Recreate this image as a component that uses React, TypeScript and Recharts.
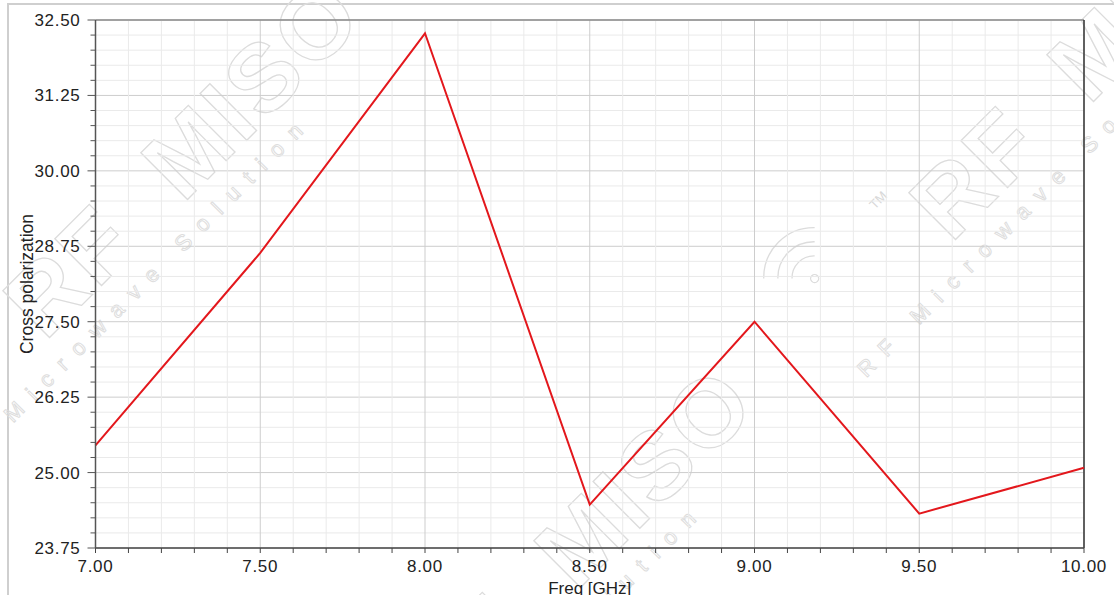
import React from 'react';
import { LineChart, Line, XAxis, YAxis, CartesianGrid, ReferenceLine, Label } from 'recharts';

// ---- data ----
const freqs = [7.0, 7.5, 8.0, 8.5, 9.0, 9.5, 10.0];
const crossPol = [25.45, 28.64, 32.28, 24.47, 27.5, 24.32, 25.08];

const xMajorTicks = [7.0, 7.5, 8.0, 8.5, 9.0, 9.5, 10.0];
const yMajorTicks = [23.75, 25.0, 26.25, 27.5, 28.75, 30.0, 31.25, 32.5];
const xDomain = [7.0, 10.0];
const yDomain = [23.75, 32.5];
const xMinorStep = 0.1;
const yMinorStep = 0.25;

const buildTicks = (lo: number, hi: number, step: number) => {
  const n = Math.round((hi - lo) / step);
  return Array.from({ length: n + 1 }, (_, i) => +(lo + i * step).toFixed(4));
};
const xAllTicks = buildTicks(xDomain[0], xDomain[1], xMinorStep);
const yAllTicks = buildTicks(yDomain[0], yDomain[1], yMinorStep);

const data = freqs.map((f, i) => ({ freq: f, xpol: crossPol[i] }));

const FONT = '"Liberation Sans", Arial, Helvetica, sans-serif';
const isMajor = (v: number, majors: number[]) => majors.some((m) => Math.abs(m - v) < 1e-6);

const YTick = (props: any) => {
  const { x, y, payload } = props;
  const major = isMajor(payload.value, yMajorTicks);
  return (
    <g>
      <line x1={x} x2={x - (major ? 8 : 5)} y1={y} y2={y} stroke="#555555" strokeWidth={1} />
      {major && (
        <text
          x={x - 15}
          y={y}
          dy="0.355em"
          textAnchor="end"
          fill="#222222"
          fontSize={17}
          letterSpacing={0.7}
          fontFamily={FONT}
        >
          {payload.value.toFixed(2)}
        </text>
      )}
    </g>
  );
};

const XTick = (props: any) => {
  const { x, y, payload } = props;
  const major = isMajor(payload.value, xMajorTicks);
  return (
    <g>
      <line x1={x} x2={x} y1={y} y2={y + 5} stroke="#444444" strokeWidth={1} />
      {major && (
        <text
          x={x}
          y={y + 12}
          dy="0.71em"
          textAnchor="middle"
          fill="#222222"
          fontSize={17}
          letterSpacing={0.7}
          fontFamily={FONT}
        >
          {payload.value.toFixed(2)}
        </text>
      )}
    </g>
  );
};

const gridLine = (props: any) => {
  const { x1, y1, x2, y2, index } = props;
  const major = index % 5 === 0;
  return (
    <line
      key={`g-${x1}-${y1}-${index}`}
      x1={x1}
      y1={y1}
      x2={x2}
      y2={y2}
      stroke={major ? '#cdcdcd' : '#eaeaea'}
      strokeWidth={1}
    />
  );
};

const WM = '#dcdcdc';
const Watermark = ({ x, y }: { x: number; y: number }) => (
  <g transform={`translate(${x},${y}) rotate(-45)`}>
    <text x={0} y={0} fontSize={96} fontWeight="bold" fontFamily={FONT} fill="none" stroke={WM} strokeWidth={1.3} letterSpacing={4}>
      MISO
    </text>
    <text x={-195} y={0} fontSize={96} fontWeight="bold" fontFamily={FONT} fill="none" stroke={WM} strokeWidth={1.3} letterSpacing={4}>
      RF
    </text>
    <text x={-225} y={-78} fontSize={13} fontFamily={FONT} fill="#d8d8d8">
      TM
    </text>
    <g fill="none" stroke={WM} strokeWidth={1.3}>
      <circle cx={-316} cy={-72} r={4} />
      <path d="M -332 -88 A 22 22 0 0 1 -300 -88" />
      <path d="M -342 -98 A 36 36 0 0 1 -290 -98" />
      <path d="M -352 -108 A 50 50 0 0 1 -280 -108" />
    </g>
    <text x={-350} y={35} fontSize={22} fontFamily={FONT} fill="none" stroke="#dddddd" strokeWidth={1} letterSpacing={13}>
      RF Microwave Solution
    </text>
  </g>
);

export default function App() {
  return (
    <div
      style={{
        position: 'fixed',
        left: 0,
        top: 0,
        width: 1114,
        height: 595,
        background: '#ffffff',
        overflow: 'hidden',
        fontFamily: FONT,
      }}
    >
      <div
        style={{
          position: 'absolute',
          left: 7,
          top: 3,
          width: 1200,
          height: 700,
          borderLeft: '2px solid #cfcfcf',
          borderTop: '2px solid #cfcfcf',
        }}
      />
      <svg width={1114} height={595} style={{ position: 'absolute', left: 0, top: 0 }}>
        <Watermark x={183} y={204} />
        <Watermark x={1089} y={106} />
        <Watermark x={576} y={592} />
      </svg>
      <div style={{ position: 'absolute', left: 0, top: 0 }}>
        <LineChart
          width={1114}
          height={595}
          data={data}
          margin={{ top: 20, right: 30, bottom: 17, left: 0 }}
        >
          <XAxis
            dataKey="freq"
            type="number"
            domain={xDomain}
            ticks={xAllTicks}
            interval={0}
            height={30}
            tickSize={0}
            tickMargin={0}
            tickLine={false}
            axisLine={{ stroke: '#444444', strokeWidth: 1.5 }}
            tick={<XTick />}
          >
            <Label value="Freq [GHz]" position="bottom" offset={4} style={{ fill: '#222222', fontSize: 17 }} />
          </XAxis>
          <YAxis
            type="number"
            domain={yDomain}
            ticks={yAllTicks}
            interval={0}
            width={95.5}
            tickSize={0}
            tickMargin={0}
            tickLine={false}
            axisLine={{ stroke: '#555555', strokeWidth: 1.5 }}
            tick={<YTick />}
          >
            <Label
              value="Cross polarization"
              angle={-90}
              position="insideLeft"
              offset={27}
              style={{ textAnchor: 'middle', fill: '#222222', fontSize: 17.5 }}
            />
          </YAxis>
          <CartesianGrid horizontal={gridLine} vertical={gridLine} />
          <ReferenceLine y={32.5} stroke="#8a8a8a" strokeWidth={1.5} />
          <ReferenceLine x={10} stroke="#333333" strokeWidth={1.5} />
          <Line
            type="linear"
            dataKey="xpol"
            stroke="#e3171c"
            strokeWidth={2}
            dot={false}
            isAnimationActive={false}
          />
        </LineChart>
      </div>
    </div>
  );
}
